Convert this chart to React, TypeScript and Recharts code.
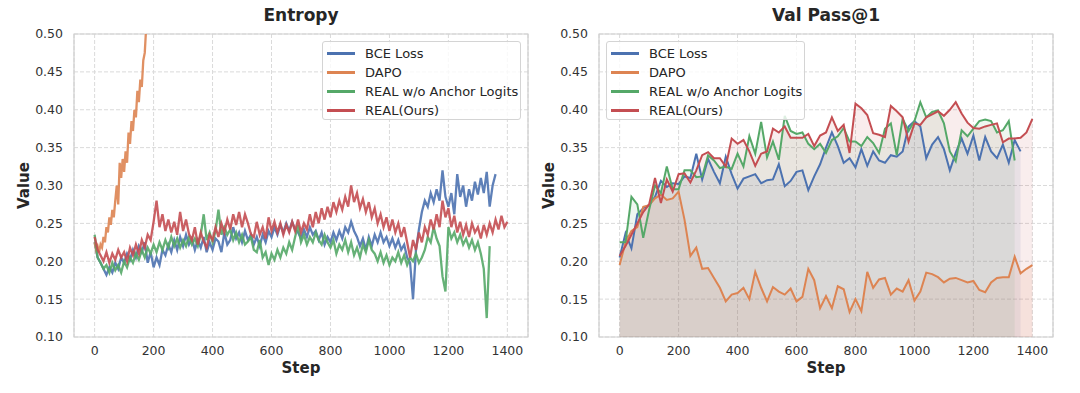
import {
  ComposedChart,
  LineChart,
  Line,
  Area,
  XAxis,
  YAxis,
  CartesianGrid,
  ReferenceArea,
  Label,
} from "recharts";

const SERIES_NAMES = ["BCE Loss", "DAPO", "REAL w/o Anchor Logits", "REAL(Ours)"];
const COLORS = ["#4C72B0", "#DD8452", "#55A868", "#C44E52"];
const X_TICKS = [0, 200, 400, 600, 800, 1000, 1200, 1400];
const Y_TICKS = [0.1, 0.15, 0.2, 0.25, 0.3, 0.35, 0.4, 0.45, 0.5];
const X_DOMAIN = [-70, 1470];

// Entropy: one value every 10 steps (DAPO every 5 steps, it blows up early)
const ENTROPY_STEP = 10;
const DAPO_ENTROPY_STEP = 5;

const BCE_ENTROPY = [
  0.225, 0.205, 0.198, 0.19, 0.182, 0.192, 0.185, 0.198, 0.19, 0.205,
  0.198, 0.21, 0.202, 0.215, 0.205, 0.22, 0.212, 0.225, 0.198, 0.212,
  0.192, 0.205, 0.195, 0.215, 0.208, 0.222, 0.212, 0.228, 0.215, 0.232,
  0.22, 0.235, 0.222, 0.23, 0.215, 0.228, 0.218, 0.232, 0.212, 0.225,
  0.215, 0.23, 0.226, 0.212, 0.238, 0.222, 0.228, 0.245, 0.23, 0.238,
  0.225, 0.24, 0.228, 0.235, 0.222, 0.232, 0.22, 0.235, 0.225, 0.24,
  0.232, 0.245, 0.235, 0.248, 0.238, 0.25, 0.24, 0.252, 0.242, 0.238,
  0.23, 0.242, 0.232, 0.245, 0.235, 0.24, 0.228, 0.238, 0.222, 0.232,
  0.225, 0.238, 0.228, 0.24, 0.23, 0.245, 0.238, 0.252, 0.24, 0.232,
  0.22, 0.23, 0.215, 0.232, 0.22, 0.235, 0.225, 0.238, 0.225, 0.232,
  0.22, 0.23, 0.218, 0.228, 0.215, 0.222, 0.205, 0.198, 0.15, 0.215,
  0.242, 0.265, 0.28, 0.272, 0.29, 0.278, 0.295, 0.28, 0.32, 0.285,
  0.272, 0.29, 0.262, 0.315, 0.285, 0.3, 0.272, 0.295, 0.28, 0.305,
  0.288, 0.31, 0.29, 0.318, 0.272, 0.3, 0.315,
];

const DAPO_ENTROPY = [
  0.225, 0.215, 0.22, 0.212, 0.222, 0.218, 0.232, 0.225, 0.245, 0.238,
  0.258, 0.248, 0.268, 0.258, 0.28, 0.3, 0.275, 0.33, 0.31, 0.335,
  0.318, 0.345, 0.33, 0.37, 0.355, 0.385, 0.372, 0.4, 0.39, 0.425,
  0.41, 0.44, 0.43, 0.465, 0.475, 0.51,
];

const REAL_NO_ANCHOR_ENTROPY = [
  0.235, 0.205, 0.198, 0.19, 0.195, 0.185, 0.198, 0.188, 0.195, 0.185,
  0.2, 0.192, 0.205, 0.198, 0.21, 0.202, 0.215, 0.205, 0.218, 0.21,
  0.222, 0.212, 0.225, 0.215, 0.228, 0.218, 0.232, 0.22, 0.23, 0.218,
  0.228, 0.22, 0.232, 0.222, 0.23, 0.22, 0.235, 0.262, 0.228, 0.238,
  0.225, 0.24, 0.268, 0.235, 0.245, 0.235, 0.242, 0.228, 0.238, 0.225,
  0.235, 0.222, 0.226, 0.232, 0.215, 0.212, 0.228, 0.205, 0.212, 0.195,
  0.21, 0.202, 0.215, 0.205, 0.218, 0.21, 0.225, 0.215, 0.232, 0.248,
  0.225, 0.235, 0.222, 0.232, 0.225, 0.238, 0.228, 0.222, 0.235, 0.225,
  0.218, 0.228, 0.21, 0.222, 0.215, 0.228, 0.212, 0.225, 0.208, 0.218,
  0.205, 0.222, 0.212, 0.228, 0.215, 0.21, 0.2, 0.212, 0.198, 0.208,
  0.195, 0.205, 0.2, 0.212, 0.198, 0.208, 0.195, 0.205, 0.2, 0.21,
  0.198, 0.205, 0.215, 0.232, 0.225, 0.245, 0.23, 0.22, 0.18, 0.16,
  0.245, 0.23, 0.238, 0.225, 0.235, 0.222, 0.23, 0.218, 0.228, 0.215,
  0.225, 0.21, 0.19, 0.125, 0.22,
];

const REAL_ENTROPY = [
  0.232, 0.215, 0.208, 0.2, 0.212, 0.198, 0.21, 0.202, 0.215, 0.205,
  0.212, 0.2, 0.218, 0.208, 0.222, 0.21, 0.228, 0.218, 0.235, 0.228,
  0.252, 0.28, 0.245, 0.262, 0.24, 0.255, 0.238, 0.252, 0.235, 0.265,
  0.24, 0.255, 0.236, 0.228, 0.245, 0.222, 0.238, 0.226, 0.218, 0.235,
  0.228, 0.245, 0.232, 0.25, 0.238, 0.255, 0.242, 0.262, 0.248, 0.265,
  0.245, 0.262, 0.25, 0.236, 0.232, 0.252, 0.235, 0.245, 0.23, 0.258,
  0.24, 0.252, 0.238, 0.25, 0.235, 0.248, 0.238, 0.252, 0.24, 0.255,
  0.238, 0.25, 0.242, 0.262, 0.245, 0.265, 0.25, 0.27, 0.255, 0.272,
  0.258, 0.278, 0.265, 0.28, 0.268, 0.285, 0.272, 0.3, 0.278, 0.29,
  0.27, 0.282, 0.265, 0.278, 0.258, 0.27, 0.25, 0.262, 0.245, 0.258,
  0.24, 0.255, 0.238, 0.25, 0.232, 0.245, 0.225, 0.205, 0.228, 0.215,
  0.238, 0.225, 0.245, 0.235, 0.255, 0.242, 0.262, 0.245, 0.28, 0.258,
  0.27, 0.245, 0.26, 0.238, 0.252, 0.235, 0.248, 0.232, 0.25, 0.238,
  0.245, 0.23, 0.248, 0.235, 0.25, 0.238, 0.255, 0.242, 0.26, 0.245,
  0.252,
];

// Val Pass@1: one evaluation every 20 steps
const VAL_STEP = 20;

const BCE_VAL = [
  0.205, 0.237, 0.217, 0.262, 0.27, 0.274, 0.285, 0.306, 0.298, 0.303,
  0.302, 0.312, 0.31, 0.342, 0.308, 0.335, 0.318, 0.303, 0.338, 0.315,
  0.296, 0.309, 0.312, 0.315, 0.303, 0.307, 0.308, 0.328, 0.299, 0.306,
  0.318, 0.32, 0.294, 0.312, 0.328, 0.35, 0.37, 0.352, 0.33, 0.336,
  0.324, 0.348, 0.326, 0.345, 0.333, 0.33, 0.34, 0.338, 0.345, 0.378,
  0.385, 0.378, 0.336, 0.354, 0.364, 0.348, 0.32, 0.343, 0.362, 0.342,
  0.366, 0.333, 0.364, 0.345, 0.336, 0.354, 0.33, 0.36, 0.345,
];

const DAPO_VAL = [
  0.195, 0.225, 0.24, 0.245, 0.272, 0.274, 0.283, 0.288, 0.281, 0.283,
  0.292, 0.255, 0.207, 0.218, 0.19, 0.191, 0.178, 0.165, 0.147, 0.156,
  0.158, 0.165, 0.15, 0.186, 0.165, 0.147, 0.166, 0.16, 0.156, 0.164,
  0.147, 0.153, 0.19, 0.175, 0.138, 0.154, 0.138, 0.167, 0.163, 0.133,
  0.15, 0.134, 0.186, 0.165, 0.176, 0.178, 0.156, 0.164, 0.16, 0.175,
  0.148, 0.16, 0.185, 0.183, 0.179, 0.172, 0.177, 0.178, 0.175, 0.172,
  0.174, 0.162, 0.159, 0.172, 0.178, 0.179, 0.179, 0.206, 0.184, 0.19,
  0.195,
];

const REAL_NO_ANCHOR_VAL = [
  0.225, 0.225, 0.285, 0.275, 0.231, 0.268, 0.3, 0.29, 0.325, 0.295,
  0.295, 0.32, 0.32, 0.311, 0.312, 0.34, 0.333, 0.323, 0.325, 0.322,
  0.342, 0.325, 0.365, 0.342, 0.384, 0.337, 0.358, 0.334, 0.392, 0.372,
  0.368, 0.37, 0.355, 0.348, 0.355, 0.343, 0.36, 0.365, 0.376, 0.358,
  0.358, 0.352, 0.364, 0.356, 0.343, 0.375, 0.382, 0.34, 0.388, 0.372,
  0.385, 0.41, 0.39, 0.397, 0.399, 0.382, 0.345, 0.332, 0.373, 0.365,
  0.375, 0.385, 0.387, 0.385, 0.37, 0.373, 0.385, 0.333,
];

const REAL_VAL = [
  0.207, 0.22, 0.235, 0.25, 0.265, 0.275, 0.31, 0.277, 0.308, 0.292,
  0.315, 0.316, 0.304, 0.32, 0.34, 0.344, 0.336, 0.336, 0.325, 0.362,
  0.355, 0.36, 0.345, 0.326, 0.342, 0.345, 0.375, 0.37, 0.378, 0.363,
  0.363, 0.363, 0.368, 0.352, 0.366, 0.37, 0.39, 0.372, 0.38, 0.343,
  0.408, 0.402, 0.393, 0.369, 0.367, 0.364, 0.405, 0.398, 0.39, 0.358,
  0.382, 0.38, 0.39, 0.394, 0.398, 0.392, 0.4, 0.41, 0.395, 0.383,
  0.376, 0.375, 0.378, 0.38, 0.382, 0.357, 0.362, 0.362, 0.363, 0.37,
  0.388,
];

const toPoints = (values: number[], every: number) =>
  values.map((value, i) => ({ step: i * every, value }));

const entropySeries = [
  toPoints(BCE_ENTROPY, ENTROPY_STEP),
  toPoints(DAPO_ENTROPY, DAPO_ENTROPY_STEP),
  toPoints(REAL_NO_ANCHOR_ENTROPY, ENTROPY_STEP),
  toPoints(REAL_ENTROPY, ENTROPY_STEP),
];

const VAL_KEYS = ["bce", "dapo", "noAnchor", "real"];
const valData = REAL_VAL.map((_, i) => ({
  step: i * VAL_STEP,
  bce: BCE_VAL[i],
  dapo: DAPO_VAL[i],
  noAnchor: REAL_NO_ANCHOR_VAL[i],
  real: REAL_VAL[i],
}));

const W = 540;
const H = 393;
const TOP = 34;
const X_AXIS_H = 56;
const TEXT = "#262626";
const GRID = "#dadada";

const fmt = (v: number) => v.toFixed(2);

function LegendBox({ left }: { left: number }) {
  return (
    <div
      style={{
        position: "absolute",
        left,
        top: 41,
        width: 199,
        height: 79,
        boxSizing: "border-box",
        border: "1px solid #d4d4d4",
        borderRadius: 3,
        background: "rgba(255,255,255,0.8)",
        fontSize: 13,
        color: TEXT,
      }}
    >
      {SERIES_NAMES.map((name, i) => (
        <div
          key={name}
          style={{
            position: "absolute",
            left: 4,
            top: 2 + i * 19,
            height: 19,
            display: "flex",
            alignItems: "center",
            whiteSpace: "nowrap",
          }}
        >
          <span
            style={{
              display: "inline-block",
              width: 28,
              height: 2.5,
              background: COLORS[i],
              marginRight: 10,
            }}
          />
          {name}
        </div>
      ))}
    </div>
  );
}

function Title({ text, left, width }: { text: string; left: number; width: number }) {
  return (
    <div
      style={{
        position: "absolute",
        left,
        width,
        top: 4,
        lineHeight: "22px",
        textAlign: "center",
        fontSize: 17,
        fontWeight: "bold",
        color: TEXT,
      }}
    >
      {text}
    </div>
  );
}

const stepLabel = (p: any) => {
  const vb = p.viewBox;
  return (
    <text x={vb.x + vb.width / 2} y={vb.y + 36} textAnchor="middle" fontSize={15} fontWeight="bold" fill={TEXT}>
      Step
    </text>
  );
};

const valueLabel = (x: number) => (p: any) => {
  const vb = p.viewBox;
  const y = vb.y + vb.height / 2;
  return (
    <text x={x} y={y} transform={`rotate(-90, ${x}, ${y})`} textAnchor="middle" fontSize={15} fontWeight="bold" fill={TEXT}>
      Value
    </text>
  );
};

function EntropyChart() {
  const yWidth = 74;
  const right = 12;
  return (
    <div style={{ position: "relative", width: W, height: H }}>
      <LineChart width={W} height={H} margin={{ top: TOP, right, bottom: 0, left: 0 }}>
        <CartesianGrid stroke={GRID} strokeDasharray="4 2" />
        <XAxis
          type="number"
          dataKey="step"
          domain={X_DOMAIN}
          ticks={X_TICKS}
          allowDataOverflow
          height={X_AXIS_H}
          axisLine={false}
          tickLine={false}
          tickMargin={3}
          tick={{ fontSize: 12.5, fill: "#333" }}
        >
          <Label content={stepLabel} />
        </XAxis>
        <YAxis
          type="number"
          domain={[0.1, 0.5]}
          ticks={Y_TICKS}
          allowDataOverflow
          width={yWidth}
          axisLine={false}
          tickLine={false}
          tickMargin={5}
          tickFormatter={fmt}
          tick={{ fontSize: 12.5, fill: "#333" }}
        >
          <Label content={valueLabel(29)} />
        </YAxis>
        <ReferenceArea x1={-70} x2={1470} y1={0.1} y2={0.5} fill="none" stroke="#cfcfcf" strokeWidth={1.2} />
        {entropySeries.map((pts, i) => (
          <Line
            key={SERIES_NAMES[i]}
            data={pts}
            dataKey="value"
            type="linear"
            stroke={COLORS[i]}
            strokeWidth={2.3}
            strokeOpacity={0.9}
            dot={false}
            activeDot={false}
            isAnimationActive={false}
          />
        ))}
      </LineChart>
      <Title text="Entropy" left={yWidth} width={W - yWidth - right} />
      <LegendBox left={322} />
    </div>
  );
}

function ValChart() {
  const yWidth = 59;
  const right = 27;
  return (
    <div style={{ position: "relative", width: W, height: H }}>
      <ComposedChart width={W} height={H} data={valData} margin={{ top: TOP, right, bottom: 0, left: 0 }}>
        <CartesianGrid stroke={GRID} strokeDasharray="4 2" />
        <XAxis
          type="number"
          dataKey="step"
          domain={X_DOMAIN}
          ticks={X_TICKS}
          allowDataOverflow
          height={X_AXIS_H}
          axisLine={false}
          tickLine={false}
          tickMargin={3}
          tick={{ fontSize: 12.5, fill: "#333" }}
        >
          <Label content={stepLabel} />
        </XAxis>
        <YAxis
          type="number"
          domain={[0.1, 0.5]}
          ticks={Y_TICKS}
          allowDataOverflow
          width={yWidth}
          axisLine={false}
          tickLine={false}
          tickMargin={5}
          tickFormatter={fmt}
          tick={{ fontSize: 12.5, fill: "#333" }}
        >
          <Label content={valueLabel(14)} />
        </YAxis>
        <ReferenceArea x1={-70} x2={1470} y1={0.1} y2={0.5} fill="none" stroke="#cfcfcf" strokeWidth={1.2} />
        {VAL_KEYS.map((k, i) => (
          <Area
            key={"area-" + k}
            dataKey={k}
            type="linear"
            stroke="none"
            fill={COLORS[i]}
            fillOpacity={0.1}
            baseValue={0.1}
            activeDot={false}
            isAnimationActive={false}
          />
        ))}
        {VAL_KEYS.map((k, i) => (
          <Line
            key={k}
            dataKey={k}
            type="linear"
            stroke={COLORS[i]}
            strokeWidth={2}
            dot={false}
            activeDot={false}
            isAnimationActive={false}
          />
        ))}
      </ComposedChart>
      <Title text="Val Pass@1" left={yWidth} width={W - yWidth - right} />
      <LegendBox left={66} />
    </div>
  );
}

export default function App() {
  return (
    <div
      style={{
        position: "absolute",
        left: 0,
        top: 0,
        width: 1080,
        height: 393,
        display: "flex",
        background: "#fff",
        fontFamily: "'DejaVu Sans', sans-serif",
      }}
    >
      <EntropyChart />
      <ValChart />
    </div>
  );
}
